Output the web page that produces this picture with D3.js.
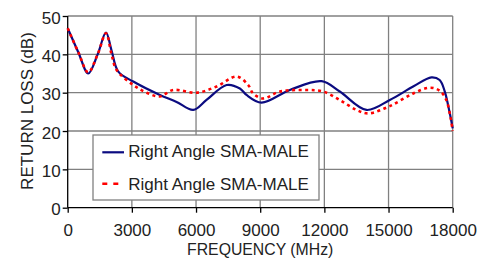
<!DOCTYPE html>
<html><head><meta charset="utf-8">
<script src="https://cdn.jsdelivr.net/npm/d3@7"></script>
<style>body{margin:0;background:#fff}svg{display:block}text{font-family:"Liberation Sans",Arial,sans-serif;fill:#222}</style>
</head><body><svg id="c" width="494" height="258"></svg>
<script>
const xTicks = [0,3000,6000,9000,12000,15000,18000];
const yTicks = [0,10,20,30,40,50];
const seriesNames = ["Right Angle SMA-MALE","Right Angle SMA-MALE"];
const blueFreq = [0,500,960,1400,1790,2050,2365,3065,4310,5090,5870,6490,7430,8050,8360,9060,10385,11870,12720,13970,15060,16150,17005,17390,17630,17850,18000];
const blueVal  = [46.8,40.5,35.0,40.0,45.7,41.0,35.5,32.9,29.4,27.6,25.5,28.1,32.0,31.1,29.4,27.4,30.7,33.0,30.3,25.5,28.1,31.6,34.0,33.3,30.3,25.0,20.7];
const redFreq = [0,500,960,1400,1790,2050,2290,3065,3690,4310,4930,6030,6960,7900,8440,8670,9140,9920,11170,11950,12720,13500,14050,15060,16150,16930,17390,17700,17900,18000];
const redVal  = [46.8,40.5,35.3,40.0,45.5,40.0,35.9,32.0,30.0,29.0,30.7,30.0,31.6,34.2,32.0,29.8,28.5,30.3,30.7,30.3,28.1,25.5,24.6,26.5,29.8,31.3,30.5,28.1,23.5,20.0];

const svg = d3.select("#c");
const L=67.7,R=452.7,T=16,B=207.7;
const FS = "17px";
const x = d3.scaleLinear().domain([0,18000]).range([L,R]);
const y = d3.scaleLinear().domain([0,50]).range([B,T]);

// grid
const g = svg.append("g");
xTicks.forEach(t=>{ if(t>0) g.append("line").attr("x1",x(t)).attr("x2",x(t)).attr("y1",T).attr("y2",B).attr("stroke","#808080").attr("stroke-width",1.3);});
yTicks.forEach(t=>{ if(t>0) g.append("line").attr("x1",L).attr("x2",R).attr("y1",y(t)).attr("y2",y(t)).attr("stroke","#808080").attr("stroke-width",1.3);});

// axes
const xa = svg.append("g").attr("transform",`translate(0,${B})`).call(d3.axisBottom(x).tickValues(xTicks).tickSize(5).tickPadding(11.5).tickFormat(d3.format("d")));
const ya = svg.append("g").attr("transform",`translate(${L},0)`).call(d3.axisLeft(y).tickValues(yTicks).tickSize(5).tickPadding(2));
[xa,ya].forEach(a=>{a.select(".domain").attr("stroke","#000").attr("stroke-width",1.3);a.selectAll(".tick line").attr("stroke","#000").attr("stroke-width",1.3);a.selectAll("text").style("font-size",FS).attr("fill","#222").style("font-family","'Liberation Sans',Arial,sans-serif");});
ya.selectAll("text").attr("dy","0.42em");
ya.select(".domain").attr("d",`M0,${B}V${T}`);
xa.select(".domain").attr("d",`M${L},0H${R}`);

// lines
const line = d3.line().x(d=>x(d[0])).y(d=>y(d[1])).curve(d3.curveCatmullRom.alpha(0.5));
svg.append("path").datum(blueFreq.map((f,i)=>[f,blueVal[i]])).attr("d",line).attr("fill","none").attr("stroke","#0b0b80").attr("stroke-width",2.2);
svg.append("path").datum(redFreq.map((f,i)=>[f,redVal[i]])).attr("d",line).attr("fill","none").attr("stroke","#ff0000").attr("stroke-width",2.6).attr("stroke-dasharray","3,3.5");

// legend
const lg = svg.append("g");
lg.append("rect").attr("x",93).attr("y",135).attr("width",226).attr("height",65).attr("fill","#fff").attr("stroke","#808080").attr("stroke-width",1.3);
lg.append("line").attr("x1",102.3).attr("x2",124).attr("y1",152.3).attr("y2",152.3).attr("stroke","#0b0b80").attr("stroke-width",2.2);
lg.append("line").attr("x1",102.3).attr("x2",124).attr("y1",183.7).attr("y2",183.7).attr("stroke","#ff0000").attr("stroke-width",2.6).attr("stroke-dasharray","5,6");
lg.append("text").attr("x",128.3).attr("y",157).style("font-size",FS).text(seriesNames[0]);
lg.append("text").attr("x",128.3).attr("y",190).style("font-size",FS).text(seriesNames[1]);

// titles
svg.append("text").attr("x",(L+R)/2).attr("y",254.5).attr("text-anchor","middle").style("font-size","15.8px").text("FREQUENCY (MHz)");
svg.append("text").attr("transform",`translate(33,111) rotate(-90)`).attr("text-anchor","middle").style("font-size",FS).text("RETURN LOSS (dB)");
</script></body></html>
